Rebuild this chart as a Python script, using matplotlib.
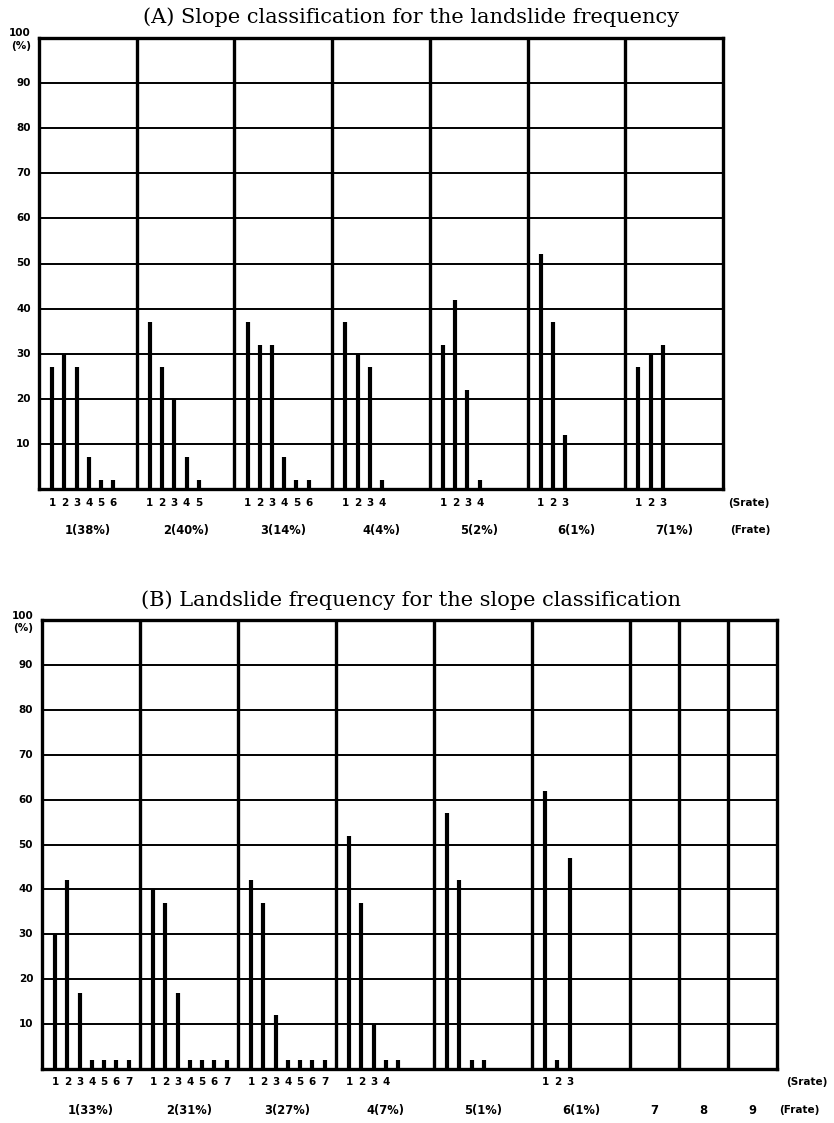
# two panel stick chart: slope classification vs landslide frequency

import matplotlib.pyplot as plt
import numpy as np

# (A) slope classification for each landslide frequency class
a_frate = ['1(38%)', '2(40%)', '3(14%)', '4(4%)', '5(2%)', '6(1%)', '7(1%)']
a_values = [
    [27, 30, 27, 7, 2, 2],
    [37, 27, 20, 7, 2],
    [37, 32, 32, 7, 2, 2],
    [37, 30, 27, 2],
    [32, 42, 22, 2],
    [52, 37, 12],
    [27, 30, 32],
]
a_srate = [[str(i + 1) for i in range(len(v))] for v in a_values]
a_widths = [1, 1, 1, 1, 1, 1, 1]

# (B) landslide frequency for each slope class
b_frate = ['1(33%)', '2(31%)', '3(27%)', '4(7%)', '5(1%)', '6(1%)', '7', '8', '9']
b_values = [
    [30, 42, 17, 2, 2, 2, 2],
    [40, 37, 17, 2, 2, 2, 2],
    [42, 37, 12, 2, 2, 2, 2],
    [52, 37, 10, 2, 2],
    [57, 42, 2, 2],
    [62, 2, 47],
    [],
    [],
    [],
]
b_srate = [
    ['1', '2', '3', '4', '5', '6', '7'],
    ['1', '2', '3', '4', '5', '6', '7'],
    ['1', '2', '3', '4', '5', '6', '7'],
    ['1', '2', '3', '4'],
    [],
    ['1', '2', '3'],
    [], [], [],
]
b_widths = [1, 1, 1, 1, 1, 1, 0.5, 0.5, 0.5]

yticks = [10, 20, 30, 40, 50, 60, 70, 80, 90]

W, H = 834, 1123
fig = plt.figure(figsize=(W / 100, H / 100), dpi=100)

tick_font = dict(fontsize=7.5, fontweight='bold', family='DejaVu Sans')
frate_font = dict(fontsize=8.3, fontweight='bold', family='DejaVu Sans')


def panel(rect, values, srate, frate, widths, title, title_y, side_x):
    ax = fig.add_axes(rect)
    edges = np.concatenate([[0], np.cumsum(widths)])
    ax.set_xlim(0, edges[-1])
    ax.set_ylim(0, 100)

    # horizontal grid
    for y in yticks:
        ax.axhline(y, color='black', lw=1.4, zorder=1)
    # group boundaries
    for x in edges[1:-1]:
        ax.axvline(x, color='black', lw=2.4, zorder=2)

    for g, vals in enumerate(values):
        xs = edges[g] + 0.135 + 0.125 * np.arange(len(vals))
        ax.vlines(xs, 0, vals, color='black', lw=3.0, zorder=3)
        for k, lab in enumerate(srate[g]):
            ax.text(edges[g] + 0.135 + 0.125 * k, -0.03, lab,
                    transform=ax.get_xaxis_transform(),
                    ha='center', va='center', **tick_font)
        ax.text((edges[g] + edges[g + 1]) / 2, -0.092, frate[g],
                transform=ax.get_xaxis_transform(),
                ha='center', va='center', **frate_font)

    ax.text(side_x[0], -0.03, '(Srate)', transform=ax.get_xaxis_transform(),
            ha='center', va='center', **tick_font)
    ax.text(side_x[1], -0.092, '(Frate)', transform=ax.get_xaxis_transform(),
            ha='center', va='center', **tick_font)

    # y labels
    for y in yticks:
        ax.text(-0.012, y, str(y), transform=ax.get_yaxis_transform(),
                ha='right', va='center', **tick_font)
    ax.text(-0.012, 101, '100', transform=ax.get_yaxis_transform(),
            ha='right', va='center', **tick_font)
    ax.text(-0.012, 98.2, '(%)', transform=ax.get_yaxis_transform(),
            ha='right', va='center', **tick_font)

    ax.set_xticks([])
    ax.set_yticks([])
    for s in ax.spines.values():
        s.set_linewidth(2.4)

    fig.text(0.493, title_y, title, ha='center', va='center',
             fontsize=15, family='DejaVu Serif')
    return ax


panel([39 / W, 1 - 489 / H, 684 / W, 451 / H], a_values, a_srate, a_frate,
      a_widths, '(A) Slope classification for the landslide frequency',
      1 - 17 / H, (7.26, 7.28))
panel([42 / W, 1 - 1069 / H, 735 / W, 449 / H], b_values, b_srate, b_frate,
      b_widths, '(B) Landslide frequency for the slope classification',
      1 - 600 / H, (7.8, 7.73))

plt.savefig('out.png', dpi=100)
